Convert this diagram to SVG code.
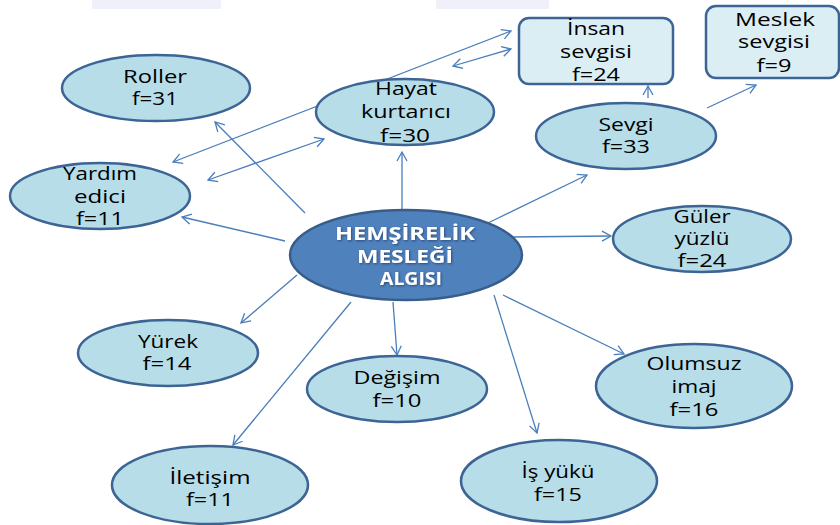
<svg xmlns="http://www.w3.org/2000/svg" width="840" height="525" viewBox="0 0 840 525">
<style>
.nd{fill:#b7dde8;stroke:#3c6494;stroke-width:2.5}
.bx{fill:#dbeef4;stroke:#3c6494;stroke-width:2.5}
.t{font-family:"Open Sans","Liberation Sans",sans-serif;font-size:18px;fill:#000;text-anchor:middle}
.c{font-family:"Open Sans","Liberation Sans",sans-serif;font-size:17px;font-weight:bold;text-anchor:middle;fill:#fff;filter:url(#sh)}
.ln{fill:none;stroke:#4a7ebb;stroke-width:1.3}
.bar{fill:#f0f0fa}
</style>
<defs>
<marker id="ah" markerWidth="12" markerHeight="12" refX="10" refY="6" orient="auto-start-reverse" markerUnits="userSpaceOnUse">
<path d="M1,1 L10,6 L1,11" fill="none" stroke="#4a7ebb" stroke-width="1.3"/>
</marker>
<filter id="sh" x="-10%" y="-30%" width="120%" height="160%">
<feDropShadow dx="1" dy="1" stdDeviation="0.8" flood-color="#1c3658" flood-opacity="0.7"/>
</filter>
</defs>
<rect class="bar" x="92" y="0" width="129" height="9"/>
<rect class="bar" x="436" y="0" width="113" height="9"/>

<g id="connectors">
<line class="ln" x1="305" y1="213" x2="215" y2="122" marker-end="url(#ah)"/>
<line class="ln" x1="285" y1="241" x2="182" y2="217" marker-end="url(#ah)"/>
<line class="ln" x1="173" y1="162" x2="511" y2="31" marker-start="url(#ah)" marker-end="url(#ah)"/>
<line class="ln" x1="208" y1="180" x2="324" y2="139" marker-start="url(#ah)" marker-end="url(#ah)"/>
<line class="ln" x1="453" y1="66" x2="511" y2="49" marker-start="url(#ah)" marker-end="url(#ah)"/>
<line class="ln" x1="402" y1="210" x2="402" y2="152" marker-end="url(#ah)"/>
<line class="ln" x1="648" y1="98" x2="648" y2="86" marker-end="url(#ah)"/>
<line class="ln" x1="707" y1="108" x2="756" y2="85" marker-end="url(#ah)"/>
<line class="ln" x1="488" y1="223" x2="587" y2="175" marker-end="url(#ah)"/>
<line class="ln" x1="512" y1="237" x2="611" y2="236" marker-end="url(#ah)"/>
<line class="ln" x1="503" y1="295" x2="624" y2="354" marker-end="url(#ah)"/>
<line class="ln" x1="494" y1="295" x2="537" y2="433" marker-end="url(#ah)"/>
<line class="ln" x1="393" y1="302" x2="397" y2="355" marker-end="url(#ah)"/>
<line class="ln" x1="297" y1="275" x2="241" y2="323" marker-end="url(#ah)"/>
<line class="ln" x1="351" y1="302" x2="233" y2="445" marker-end="url(#ah)"/>
</g>

<g id="center">
<ellipse cx="406" cy="255" rx="116" ry="45" fill="#4f81bd" stroke="#385d8a" stroke-width="2.5"/>
<text class="c" x="405" y="240" textLength="140" lengthAdjust="spacingAndGlyphs">HEMŞİRELİK</text>
<text class="c" x="405" y="263" textLength="96" lengthAdjust="spacingAndGlyphs">MESLEĞİ</text>
<text class="c" x="411" y="285" textLength="62" lengthAdjust="spacingAndGlyphs">ALGISI</text>
</g>

<g id="roller">
<ellipse class="nd" cx="156" cy="88" rx="94" ry="33"/>
<text class="t" x="155" y="83" textLength="64" lengthAdjust="spacingAndGlyphs">Roller</text>
<text class="t" x="155" y="105" textLength="46" lengthAdjust="spacingAndGlyphs">f=31</text>
</g>

<g id="yardim">
<ellipse class="nd" cx="100" cy="196" rx="90" ry="33"/>
<text class="t" x="100" y="180" textLength="74" lengthAdjust="spacingAndGlyphs">Yardım</text>
<text class="t" x="100" y="203" textLength="52" lengthAdjust="spacingAndGlyphs">edici</text>
<text class="t" x="100" y="225" textLength="48" lengthAdjust="spacingAndGlyphs">f=11</text>
</g>

<g id="hayat">
<ellipse class="nd" cx="405" cy="112" rx="89" ry="33"/>
<text class="t" x="406" y="95" textLength="62" lengthAdjust="spacingAndGlyphs">Hayat</text>
<text class="t" x="406" y="118" textLength="90" lengthAdjust="spacingAndGlyphs">kurtarıcı</text>
<text class="t" x="405" y="142" textLength="50" lengthAdjust="spacingAndGlyphs">f=30</text>
</g>

<g id="insan">
<rect class="bx" x="519" y="18" width="154" height="66" rx="10"/>
<text class="t" x="596" y="35" textLength="58" lengthAdjust="spacingAndGlyphs">İnsan</text>
<text class="t" x="596" y="58" textLength="72" lengthAdjust="spacingAndGlyphs">sevgisi</text>
<text class="t" x="596" y="81" textLength="48" lengthAdjust="spacingAndGlyphs">f=24</text>
</g>

<g id="meslek">
<rect class="bx" x="706" y="6" width="133" height="72" rx="10"/>
<text class="t" x="775" y="26" textLength="80" lengthAdjust="spacingAndGlyphs">Meslek</text>
<text class="t" x="774" y="48" textLength="72" lengthAdjust="spacingAndGlyphs">sevgisi</text>
<text class="t" x="774" y="72" textLength="35" lengthAdjust="spacingAndGlyphs">f=9</text>
</g>

<g id="sevgi">
<ellipse class="nd" cx="626" cy="136" rx="90" ry="33"/>
<text class="t" x="626" y="131" textLength="55" lengthAdjust="spacingAndGlyphs">Sevgi</text>
<text class="t" x="626" y="153" textLength="48" lengthAdjust="spacingAndGlyphs">f=33</text>
</g>

<g id="guler">
<ellipse class="nd" cx="702" cy="239" rx="89" ry="33"/>
<text class="t" x="702" y="223" textLength="57" lengthAdjust="spacingAndGlyphs">Güler</text>
<text class="t" x="702" y="245" textLength="55" lengthAdjust="spacingAndGlyphs">yüzlü</text>
<text class="t" x="702" y="267" textLength="49" lengthAdjust="spacingAndGlyphs">f=24</text>
</g>

<g id="olumsuz">
<ellipse class="nd" cx="694" cy="386" rx="98" ry="42"/>
<text class="t" x="694" y="370" textLength="95" lengthAdjust="spacingAndGlyphs">Olumsuz</text>
<text class="t" x="694" y="393" textLength="45" lengthAdjust="spacingAndGlyphs">imaj</text>
<text class="t" x="694" y="416" textLength="49" lengthAdjust="spacingAndGlyphs">f=16</text>
</g>

<g id="isyuku">
<ellipse class="nd" cx="559" cy="481" rx="98" ry="41"/>
<text class="t" x="558" y="478" textLength="73" lengthAdjust="spacingAndGlyphs">İş yükü</text>
<text class="t" x="558" y="501" textLength="48" lengthAdjust="spacingAndGlyphs">f=15</text>
</g>

<g id="yurek">
<ellipse class="nd" cx="168" cy="353" rx="90" ry="33"/>
<text class="t" x="168" y="348" textLength="60" lengthAdjust="spacingAndGlyphs">Yürek</text>
<text class="t" x="167" y="370" textLength="49" lengthAdjust="spacingAndGlyphs">f=14</text>
</g>

<g id="degisim">
<ellipse class="nd" cx="397" cy="389" rx="90" ry="33"/>
<text class="t" x="397" y="384" textLength="87" lengthAdjust="spacingAndGlyphs">Değişim</text>
<text class="t" x="397" y="407" textLength="49" lengthAdjust="spacingAndGlyphs">f=10</text>
</g>

<g id="iletisim">
<ellipse class="nd" cx="210" cy="485" rx="98" ry="39"/>
<text class="t" x="210" y="484" textLength="81" lengthAdjust="spacingAndGlyphs">İletişim</text>
<text class="t" x="210" y="506" textLength="48" lengthAdjust="spacingAndGlyphs">f=11</text>
</g>
</svg>
